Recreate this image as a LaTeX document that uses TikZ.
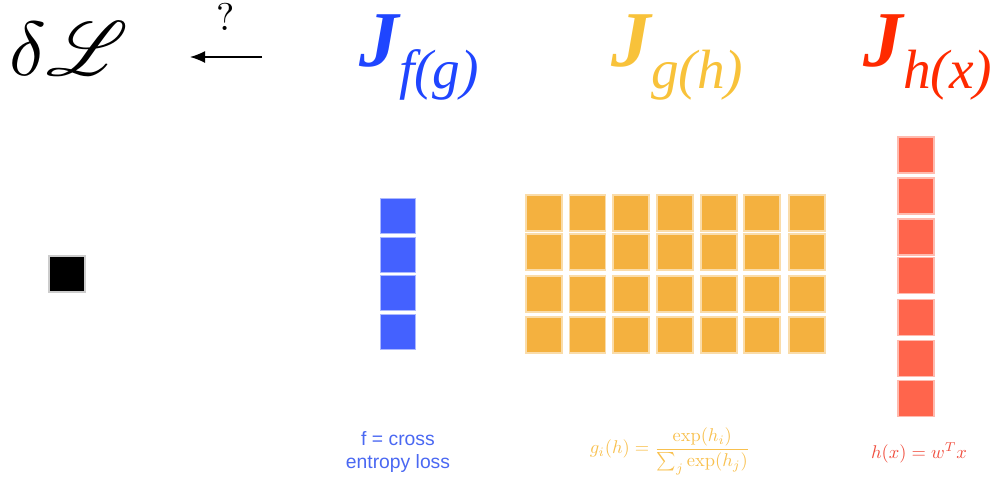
\documentclass[tikz,border=0pt]{standalone}
\usepackage{amsmath}
\usepackage{mathrsfs}
\usepackage{fontspec}
\setsansfont{Liberation Sans}
\newfontfamily\timesf{Liberation Serif}
\usetikzlibrary{arrows.meta,positioning}

\definecolor{cazul}{HTML}{4461FF}
\definecolor{cnaranja}{HTML}{F4B13F}
\definecolor{crojo}{HTML}{FF654C}
\definecolor{tazul}{HTML}{1F45FF}
\definecolor{tnaranja}{HTML}{F8C23A}
\definecolor{trojo}{HTML}{FF2A00}
\definecolor{nazul}{HTML}{4A68F2}
\definecolor{nnaranja}{HTML}{F8C04E}
\definecolor{nrojo}{HTML}{F04C3C}

\newcommand{\jac}[2]{$\text{\timesf\bfseries\itshape J}_{\text{\raisebox{-1.4pt}{\timesf\itshape #1(#2)}}}$}

\tikzset{
    celda/.style={
        rectangle,                % cada entrada de la matriz es un cuadrado
        fill=#1,                  % relleno con el color del bloque
        draw=#1!45,               % borde muy claro, casi blanco
        line width=0.6pt,
        minimum size=0.72cm,      % lado del cuadrado
        inner sep=0pt             % sin texto dentro
    },
    titulo/.style={
        text=#1,                  % color del jacobiano
        scale=4.5,                % texto muy grande (se escala el tamano normal)
        inner sep=0pt,
        anchor=base west          % se alinea por la linea base
    },
    nota/.style={
        text=#1,
        align=center,             % notas centradas bajo cada bloque
        inner sep=0pt
    }
}

\begin{document}
\begin{tikzpicture}[x=0.02cm, y=-0.02cm]
\useasboundingbox (0,0) rectangle (1000,480);

\node[titulo=black, scale=0.97] (perdida) at (8,75) {$\delta\mathscr{L}$};
\coordinate (flechaini) at (262,57);
\coordinate (flechafin) at (190,57);
\draw[-{Latex[length=3mm,width=2.4mm]}, line width=0.8pt] (flechaini) -- (flechafin)
    node[midway, above=7pt, scale=2.2] (pregunta) {?};

\node[titulo=tazul] (jf) at (358,66) {\jac{f}{g}};
\node[titulo=tnaranja] (jg) at (610,66) {\jac{g}{h}};
\node[titulo=trojo] (jh) at (862,66) {\jac{h}{x}};

\node[celda=black, draw=gray!40] (escalar) at (67,274) {};

\foreach \i/\y in {1/216,2/255,3/293,4/332}
    \node[celda=cazul, minimum size=0.7cm] (b\i) at (398,\y) {};

\foreach \f/\y in {1/213,2/252,3/294,4/335}
    \foreach \c/\x in {1/544,2/587.5,3/631,4/675,5/719,6/762,7/807}
        \node[celda=cnaranja] (g\f\c) at (\x,\y) {};

\foreach \i/\y in {1/155,2/196,3/237,4/275.5,5/317.5,6/358.5,7/398.5}
    \node[celda=crojo] (r\i) at (916,\y) {};

\node[nota=nazul, font=\sffamily\fontsize{11}{13.5}\selectfont] (notaf) at (398,452) {f = cross\\entropy loss};
\node[nota=nnaranja, scale=1.05] (notag) at (670,451) {$g_i(h) = \dfrac{\exp(h_i)}{\sum_j \exp(h_j)}$};
\node[nota=nrojo, scale=1.05] (notah) at (919,453) {$h(x) = w^T x$};
\end{tikzpicture}
\end{document}
